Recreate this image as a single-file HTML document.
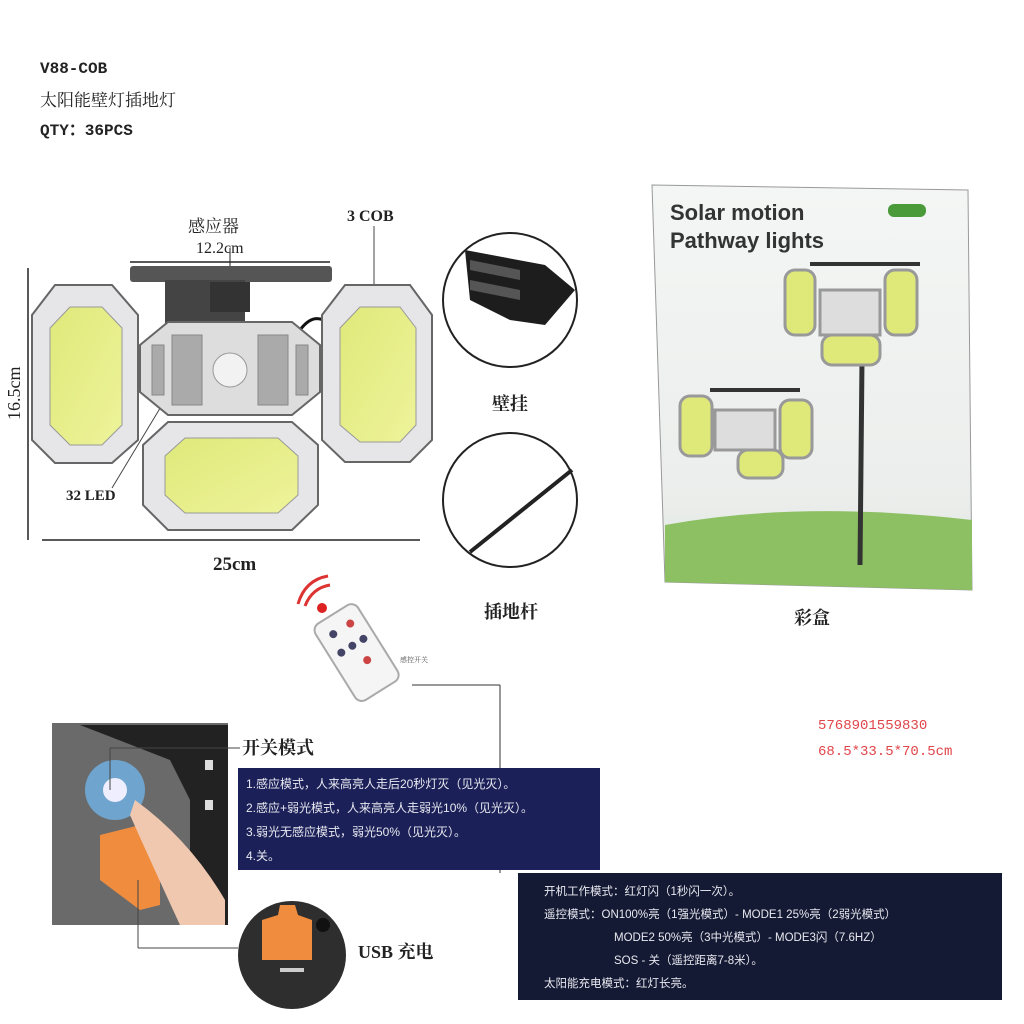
<!DOCTYPE html>
<html><head><meta charset="utf-8"><style>
body{margin:0;width:1024px;height:1024px;background:#fff;overflow:hidden;position:relative;font-family:"Liberation Serif","Noto Serif CJK SC",serif}
.t{position:absolute;color:#222;white-space:nowrap}
.box{position:absolute;color:#e8e8f0;font-family:"Liberation Sans","Noto Sans CJK SC",sans-serif;font-size:12px}
</style></head><body>
<div class="t" style="left:40px;top:60px;font-size:16px;font-weight:bold;font-family:'Liberation Mono',monospace">V88-COB</div>
<div class="t" style="left:40px;top:86px;font-size:17px">太阳能壁灯插地灯</div>
<div class="t" style="left:40px;top:116px;font-size:16px;font-weight:bold;font-family:'Liberation Mono','Noto Sans CJK SC',monospace">QTY：36PCS</div>

<svg width="1024" height="1024" style="position:absolute;left:0;top:0">
<defs>
<linearGradient id="y" x1="0" y1="0" x2="1" y2="1"><stop offset="0" stop-color="#dfe97a"/><stop offset="1" stop-color="#eef39a"/></linearGradient>
<linearGradient id="bx" x1="0" y1="0" x2="0" y2="1"><stop offset="0" stop-color="#f4f6f5"/><stop offset=".75" stop-color="#eceeed"/><stop offset="1" stop-color="#dfe6dc"/></linearGradient>
</defs>
<line x1="130" y1="262" x2="330" y2="262" stroke="#222" stroke-width="1.5"/>
<line x1="230" y1="248" x2="230" y2="272" stroke="#222"/>
<line x1="42" y1="540" x2="420" y2="540" stroke="#222" stroke-width="1.5"/>
<line x1="28" y1="268" x2="28" y2="540" stroke="#222" stroke-width="1.5"/>
<line x1="374" y1="226" x2="374" y2="288" stroke="#444"/>
<line x1="112" y1="488" x2="168" y2="395" stroke="#444"/>
<rect x="130" y="266" width="202" height="16" rx="3" fill="#555"/>
<rect x="165" y="280" width="80" height="50" fill="#444"/>
<rect x="210" y="282" width="40" height="30" fill="#333"/>
<path d="M300 330 Q315 310 330 325" stroke="#111" stroke-width="3" fill="none"/>
<polygon points="55,285 112,285 138,315 138,440 112,463 55,463 32,440 32,315" fill="#e6e6e8" stroke="#666" stroke-width="2"/>
<polygon points="70,307 102,307 122,328 122,425 102,445 70,445 50,425 50,328" fill="url(#y)" stroke="#999"/>
<polygon points="345,285 410,285 432,315 432,440 410,462 345,462 322,440 322,315" fill="#e6e6e8" stroke="#666" stroke-width="2"/>
<polygon points="360,307 400,307 416,328 416,425 400,442 360,442 340,425 340,328" fill="url(#y)" stroke="#999"/>
<polygon points="168,322 292,322 320,345 320,392 292,415 168,415 140,392 140,345" fill="#ddd" stroke="#666" stroke-width="2"/>
<g fill="#aaa" stroke="#888">
<rect x="152" y="345" width="12" height="50"/><rect x="172" y="335" width="30" height="70"/><rect x="258" y="335" width="30" height="70"/><rect x="296" y="345" width="12" height="50"/>
</g>
<circle cx="230" cy="370" r="17" fill="#f2f2f2" stroke="#999"/>
<polygon points="168,422 292,422 318,445 318,505 292,530 168,530 143,505 143,445" fill="#e6e6e8" stroke="#666" stroke-width="2"/>
<polygon points="185,438 278,438 298,456 298,495 278,513 185,513 165,495 165,456" fill="url(#y)" stroke="#999"/>
<circle cx="510" cy="300" r="67" fill="#fff" stroke="#222" stroke-width="2"/>
<path d="M465 250 L545 265 L575 290 L545 325 L510 320 L470 300 Z" fill="#1d1d1d"/>
<path d="M470 260 L520 270 L520 280 L470 270Z M470 280 L520 290 L520 300 L470 290Z" fill="#555"/>
<circle cx="510" cy="500" r="67" fill="#fff" stroke="#222" stroke-width="2"/>
<line x1="470" y1="552" x2="572" y2="470" stroke="#222" stroke-width="4"/>
<polygon points="652,185 968,190 972,590 665,582" fill="url(#bx)" stroke="#999"/>
<path d="M665 525 Q800 500 972 520 L972 590 L665 582Z" fill="#8cc063"/>
<rect x="888" y="204" width="38" height="13" rx="6" fill="#4a9a3a"/>
<rect x="810" y="262" width="110" height="4" fill="#333"/>
<line x1="862" y1="360" x2="860" y2="565" stroke="#333" stroke-width="5"/>
<g fill="#dfe97a" stroke="#999" stroke-width="3">
<rect x="785" y="270" width="30" height="65" rx="10"/><rect x="885" y="270" width="32" height="65" rx="10"/><rect x="820" y="290" width="60" height="45" fill="#ddd"/><rect x="822" y="335" width="58" height="30" rx="10"/>
<rect x="680" y="396" width="32" height="60" rx="10"/><rect x="780" y="400" width="32" height="58" rx="10"/><rect x="715" y="410" width="60" height="40" fill="#ddd"/><rect x="738" y="450" width="45" height="28" rx="10"/>
</g>
<rect x="710" y="388" width="90" height="4" fill="#333"/>
<g transform="rotate(-32 355 650)">
<rect x="330" y="608" width="50" height="90" rx="8" fill="#f5f5f5" stroke="#aaa" stroke-width="2"/>
<circle cx="345" cy="625" r="4" fill="#446"/><circle cx="365" cy="625" r="4" fill="#c44"/>
<circle cx="342" cy="645" r="4" fill="#446"/><circle cx="355" cy="645" r="4" fill="#446"/><circle cx="368" cy="645" r="4" fill="#446"/>
<circle cx="360" cy="665" r="4" fill="#c44"/>
</g>
<circle cx="322" cy="608" r="5" fill="#d22"/>
<path d="M305 606 Q312 588 330 585 M298 604 Q305 580 328 576" stroke="#d33" stroke-width="3" fill="none"/>
<line x1="412" y1="685" x2="500" y2="685" stroke="#333"/>
<line x1="500" y1="685" x2="500" y2="873" stroke="#333"/>
<rect x="52" y="723" width="176" height="202" fill="#6a6a6a"/>
<path d="M80 725 L228 725 L228 925 L190 925 L190 800 L170 760Z" fill="#222"/>
<rect x="205" y="760" width="8" height="10" fill="#ddd"/><rect x="205" y="800" width="8" height="10" fill="#ddd"/>
<circle cx="115" cy="790" r="30" fill="#6fb3e6" opacity=".8"/>
<circle cx="115" cy="790" r="12" fill="#eef"/>
<path d="M100 835 L140 825 L160 835 L160 905 L140 910 L120 895 L100 880Z" fill="#f08c3e"/>
<path d="M135 800 Q190 840 225 900 L225 925 L180 925 Q150 860 130 815Z" fill="#f0c8b0"/>
<line x1="110" y1="748" x2="240" y2="748" stroke="#444"/>
<line x1="110" y1="748" x2="110" y2="790" stroke="#444"/>
<line x1="138" y1="880" x2="138" y2="948" stroke="#444"/>
<line x1="138" y1="948" x2="238" y2="948" stroke="#444"/>
<circle cx="292" cy="955" r="54" fill="#2e2e2e"/>
<path d="M262 920 L278 915 L280 905 L295 905 L298 915 L312 920 L312 960 L262 960Z" fill="#f08c3e"/>
<circle cx="323" cy="925" r="7" fill="#111"/>
<rect x="280" y="968" width="24" height="4" fill="#ccc"/>
</svg>

<div class="t" style="left:188px;top:212px;font-size:17px">感应器</div>
<div class="t" style="left:196px;top:240px;font-size:16px">12.2cm</div>
<div class="t" style="left:347px;top:208px;font-size:16px;font-weight:bold">3 COB</div>
<div class="t" style="left:4px;top:420px;font-size:18px;transform:rotate(-90deg);transform-origin:left top">16.5cm</div>
<div class="t" style="left:66px;top:488px;font-size:15px;font-weight:bold">32 LED</div>
<div class="t" style="left:213px;top:554px;font-size:19px;font-weight:bold">25cm</div>
<div class="t" style="left:492px;top:390px;font-size:18px;font-weight:bold">壁挂</div>
<div class="t" style="left:484px;top:598px;font-size:18px;font-weight:bold">插地杆</div>
<div class="t" style="left:794px;top:604px;font-size:18px;font-weight:bold">彩盒</div>
<div class="t" style="left:670px;top:200px;font-size:22px;font-weight:bold;color:#333;font-family:'Liberation Sans',sans-serif">Solar motion</div>
<div class="t" style="left:670px;top:228px;font-size:22px;font-weight:bold;color:#333;font-family:'Liberation Sans',sans-serif">Pathway lights</div>
<div class="t" style="left:400px;top:655px;font-size:7px;color:#555">感控开关</div>
<div class="t" style="left:818px;top:718px;font-size:14px;color:#e0454a;font-family:'Liberation Mono',monospace">5768901559830</div>
<div class="t" style="left:818px;top:744px;font-size:14px;color:#e0454a;font-family:'Liberation Mono',monospace">68.5*33.5*70.5cm</div>
<div class="t" style="left:242px;top:734px;font-size:18px;font-weight:bold">开关模式</div>
<div class="t" style="left:358px;top:938px;font-size:18px;font-weight:bold">USB 充电</div>

<div class="box" style="left:238px;top:768px;width:362px;height:102px;background:#1b2158;padding:4px 8px;box-sizing:border-box;line-height:24px">1.感应模式，人来高亮人走后20秒灯灭（见光灭）。<br>2.感应+弱光模式，人来高亮人走弱光10%（见光灭）。<br>3.弱光无感应模式，弱光50%（见光灭）。<br>4.关。</div>
<div class="box" style="left:518px;top:873px;width:484px;height:127px;background:#141a33;padding:8px 26px;box-sizing:border-box;line-height:23px;font-size:11.5px">开机工作模式：红灯闪（1秒闪一次）。<br>遥控模式：ON100%亮（1强光模式）- MODE1 25%亮（2弱光模式）<br><span style="padding-left:70px">MODE2 50%亮（3中光模式）- MODE3闪（7.6HZ）</span><br><span style="padding-left:70px">SOS - 关（遥控距离7-8米）。</span><br>太阳能充电模式：红灯长亮。</div>
</body></html>
